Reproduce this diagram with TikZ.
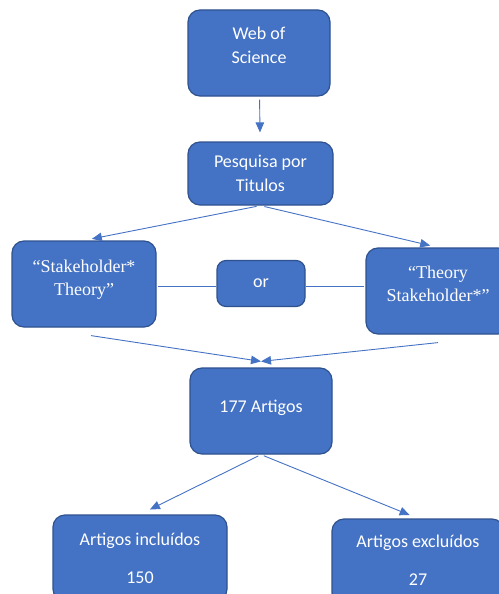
\documentclass[tikz,border=0pt]{standalone}
\usepackage{fontspec}
\setmainfont{Carlito}
\newfontfamily\serifq{Liberation Serif}
\usetikzlibrary{arrows.meta,positioning,calc}
\definecolor{boxblue}{HTML}{4472C4}
\definecolor{boxedge}{HTML}{2F528F}

\begin{document}
\begin{tikzpicture}[x=1pt,y=-1pt,shorten >=1pt,>={Triangle[length=10pt,width=8.5pt]}]
		\tikzstyle{box}=[draw=boxedge,fill=boxblue,line width=1.2pt,rounded corners=12pt,text=white,align=center,font=\fontsize{18}{24.5}\selectfont,minimum height=86pt,inner sep=2pt]
		\tikzstyle{phrase}=[box,font=\serifq\fontsize{18}{23}\selectfont]
		\tikzstyle{link}=[draw=boxblue,line width=0.9pt]

		\useasboundingbox (0,0) rectangle (498,594);

		\node[box,minimum width=142pt,text depth=15pt](wos) at (259,53){Web of\\Science};
		\node[box,minimum width=145pt,minimum height=63pt](pes) at (260.5,173.5){Pesquisa por\\Titulos};

		\node[phrase,minimum width=144pt,text depth=12pt](stk) at (84,284){“Stakeholder*\\Theory”};
		\node[box,minimum width=88pt,minimum height=46pt,rounded corners=9pt](or) at (261,283.5){or};
		\node[phrase,minimum width=144pt,text depth=14pt](thy) at (438,291){“Theory\\Stakeholder*”};

		\node[box,minimum width=142pt,text depth=10pt](art) at (261,411){177 Artigos};

		\node[box,minimum width=174pt](incl) at (140,558){Artigos incluídos\\[13.5pt]150};
		\node[box,minimum width=172pt,text depth=4pt](excl) at (418,562){Artigos excluídos\\[13.5pt]27};

		\coordinate (meet) at ([yshift=6pt]art.north);

		\draw[link,->,shorten <=3pt,shorten >=9pt] (wos) -- (pes);

		\draw[link,->,shorten <=4pt,shorten >=8pt] (pes.south) -- (stk.north);
		\draw[link,->,shorten <=4pt,shorten >=8pt] (pes.south) -- (thy.north);

		\draw[link] ([yshift=-2.5pt]or.west) -- ([yshift=-2.5pt]or.west -| stk.east);
		\draw[link] ([yshift=-2.5pt]or.east) -- ([yshift=-2.5pt]or.east -| thy.west);

		\draw[link,->,shorten >=0pt] ([xshift=7pt,yshift=-8pt]stk.south) -- (meet);
		\draw[link,->,shorten >=0pt] ([yshift=-8pt]thy.south) -- (meet);

		\draw[link,->,shorten <=3pt,shorten >=11pt] (art.south) -- (incl.north);
		\draw[link,->,shorten <=3pt,shorten >=9pt] (art.south) -- (excl.north);
	\end{tikzpicture}
\end{document}
